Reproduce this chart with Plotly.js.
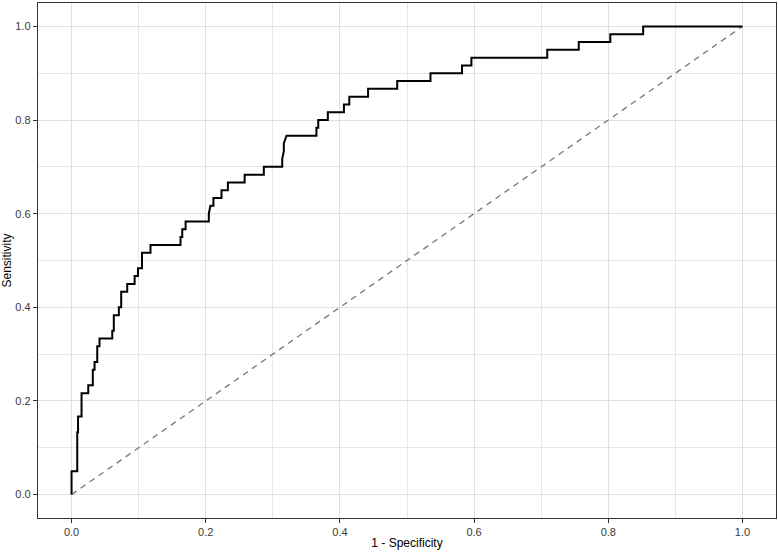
<!DOCTYPE html>
<html>
<head>
<meta charset="utf-8">
<script src="https://cdn.plot.ly/plotly-3.0.1.min.js"></script>
<style>html,body{margin:0;padding:0;background:#fff;}#chart{width:778px;height:552px;}</style>
</head>
<body>
<div id="chart"></div>
<script>
// ROC curve points (1 - specificity, sensitivity)
const fpr = [0, 0, 0.0085, 0.0085, 0.0097, 0.0097, 0.0149, 0.0149, 0.0249, 0.0249,
  0.0317, 0.0317, 0.0343, 0.0343, 0.0383, 0.0383, 0.0417, 0.0417, 0.0607, 0.0607,
  0.063, 0.063, 0.0705, 0.0705, 0.074, 0.074, 0.083, 0.083, 0.094, 0.094,
  0.099, 0.099, 0.105, 0.105, 0.1177, 0.1177, 0.1624, 0.1624, 0.165, 0.165,
  0.17, 0.17, 0.2046, 0.2046, 0.207, 0.2115, 0.2115, 0.2235, 0.2235, 0.233,
  0.233, 0.258, 0.258, 0.2866, 0.2866, 0.314, 0.314, 0.3164, 0.3164, 0.3204,
  0.365, 0.365, 0.3677, 0.3677, 0.382, 0.382, 0.406, 0.406, 0.414, 0.414,
  0.442, 0.442, 0.4854, 0.4854, 0.535, 0.535, 0.582, 0.582, 0.596, 0.596,
  0.709, 0.709, 0.756, 0.756, 0.803, 0.803, 0.852, 0.852, 1];
const tpr = [0, 0.05, 0.05, 0.1333, 0.1333, 0.1667, 0.1667, 0.2167, 0.2167, 0.2333,
  0.2333, 0.2667, 0.2667, 0.2833, 0.2833, 0.3167, 0.3167, 0.3333, 0.3333, 0.35,
  0.35, 0.3833, 0.3833, 0.4, 0.4, 0.4333, 0.4333, 0.45, 0.45, 0.4667,
  0.4667, 0.4833, 0.4833, 0.5167, 0.5167, 0.5333, 0.5333, 0.55, 0.55, 0.5667,
  0.5667, 0.5833, 0.5833, 0.6, 0.6167, 0.6167, 0.6333, 0.6333, 0.65, 0.65,
  0.6667, 0.6667, 0.6833, 0.6833, 0.7, 0.7, 0.7167, 0.7333, 0.75, 0.7667,
  0.7667, 0.7833, 0.7833, 0.8, 0.8, 0.8167, 0.8167, 0.8333, 0.8333, 0.85,
  0.85, 0.8667, 0.8667, 0.8833, 0.8833, 0.9, 0.9, 0.9167, 0.9167, 0.9333,
  0.9333, 0.95, 0.95, 0.9667, 0.9667, 0.9833, 0.9833, 1, 1];
// Chance line
const refX = [0, 1];
const refY = [0, 1];
const tickVals = [0, 0.2, 0.4, 0.6, 0.8, 1.0];
const tickText = ["0.0", "0.2", "0.4", "0.6", "0.8", "1.0"];
const xTitle = "1 - Specificity";
const yTitle = "Sensitivity";

const traces = [
  {x: refX, y: refY, type: 'scatter', mode: 'lines',
   line: {color: '#7f7f7f', width: 1.4, dash: '6px,5px'}, hoverinfo: 'skip'},
  {x: fpr, y: tpr, type: 'scatter', mode: 'lines',
   line: {color: '#000000', width: 2}}
];

const axisCommon = {
  range: [-0.05, 1.05],
  tickvals: tickVals,
  ticktext: tickText,
  ticks: 'outside',
  ticklen: 4,
  tickwidth: 1,
  tickcolor: '#333333',
  tickfont: {family: 'Liberation Sans, Arial, sans-serif', size: 11, color: '#3a3a3a'},
  showgrid: true,
  gridcolor: '#e0e0e0',
  gridwidth: 1,
  minor: {dtick: 0.1, tick0: 0, showgrid: true, gridcolor: '#e6e6e6', gridwidth: 1, ticks: ''},
  zeroline: false,
  showline: true,
  linecolor: '#333333',
  linewidth: 1.2,
  mirror: true,
  fixedrange: true
};

const layout = {
  width: 778, height: 552,
  margin: {l: 38, r: 2, t: 3, b: 34},
  paper_bgcolor: '#ffffff',
  plot_bgcolor: '#ffffff',
  showlegend: false,
  font: {family: 'Liberation Sans, Arial, sans-serif', color: '#000000'},
  xaxis: Object.assign({}, axisCommon, {
    title: {text: xTitle, font: {size: 12, color: '#000000'}, standoff: 1}
  }),
  yaxis: Object.assign({}, axisCommon, {
    title: {text: yTitle, font: {size: 12, color: '#000000'}, standoff: 6}
  })
};

Plotly.newPlot('chart', traces, layout, {displayModeBar: false, staticPlot: true});
</script>
</body>
</html>
